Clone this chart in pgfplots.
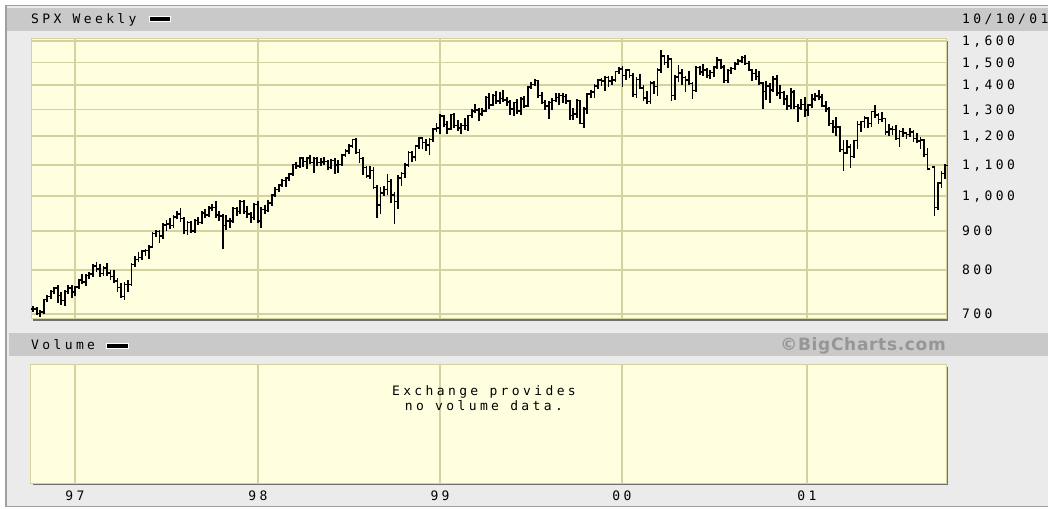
\documentclass[border=0pt]{standalone}
\usepackage{pgfplots}
\usepackage{pgfplotstable}
\pgfplotsset{compat=1.18}
\usepackage{fontspec}
\newfontfamily\pixfont[LetterSpace=26]{DejaVu Sans Mono}
\newfontfamily\bcfont[LetterSpace=4]{DejaVu Sans}
\newcommand{\pix}{\pixfont\fontsize{13}{15}\selectfont}
\definecolor{plotbg}{RGB}{255,255,224}
\definecolor{gridc}{RGB}{212,210,158}
\definecolor{bgc}{RGB}{235,235,235}
\definecolor{hdr}{RGB}{201,201,201}
\definecolor{framec}{RGB}{160,160,160}
\definecolor{shadowc}{RGB}{112,112,112}
\definecolor{bctext}{RGB}{150,150,150}
\pgfdeclareplotmark{ohlcopen}{\pgfpathmoveto{\pgfqpoint{-\pgfplotmarksize}{0pt}}\pgfpathlineto{\pgfqpoint{0pt}{0pt}}\pgfusepathqstroke}
\pgfdeclareplotmark{ohlcclose}{\pgfpathmoveto{\pgfqpoint{0pt}{0pt}}\pgfpathlineto{\pgfqpoint{\pgfplotmarksize}{0pt}}\pgfusepathqstroke}
\pgfdeclareplotmark{hlbar}{\pgfpathmoveto{\pgfpointorigin}\pgfpathlineto{\pgfpoint{0pt}{\barlen pt}}\pgfusepathqstroke}
% week index i: 0 = week ending 4 Oct 1996
\pgfplotstableread{
i o h l c
1 701 714 700 711
2 711 716 706 711
3 711 714 699 701
4 701 706 695 704
5 704 731 702 731
6 731 739 728 738
7 738 751 735 749
8 749 758 745 757
9 757 761 726 740
10 740 746 721 729
11 729 750 720 749
12 749 761 746 757
13 757 762 737 748
14 748 760 742 760
15 760 777 758 776
16 776 789 768 771
17 771 787 765 786
18 786 794 781 790
19 790 812 785 809
20 809 817 796 802
21 802 812 784 791
22 791 807 788 805
23 805 814 787 793
24 793 797 777 784
25 784 798 770 774
26 774 778 750 758
27 758 767 736 738
28 738 768 733 766
29 766 774 750 765
30 765 814 763 813
31 813 831 808 825
32 825 841 822 830
33 830 848 826 847
34 847 851 836 848
35 848 860 830 858
36 858 894 857 893
37 893 899 886 899
38 899 901 870 887
39 887 919 882 917
40 917 927 902 919
41 919 934 907 915
42 915 942 912 939
43 939 954 935 947
44 947 962 928 934
45 934 935 895 901
46 901 926 891 924
47 924 925 897 900
48 900 932 898 929
49 929 935 918 924
50 924 953 921 951
51 951 958 938 945
52 945 967 942 965
53 965 973 958 967
54 967 984 940 944
55 944 953 930 942
56 942 944 855 915
57 915 941 905 928
58 928 933 912 928
59 928 966 925 963
60 963 964 945 955
61 955 986 951 984
62 984 986 950 954
63 954 968 940 947
64 947 950 925 937
65 937 976 932 975
66 975 983 924 928
67 928 965 912 961
68 961 972 950 958
69 958 986 955 980
70 980 1005 973 1003
71 1003 1025 1000 1020
72 1020 1036 1017 1034
73 1034 1051 1030 1049
74 1049 1058 1032 1056
75 1056 1069 1050 1069
76 1069 1101 1066 1101
77 1101 1106 1088 1095
78 1095 1123 1093 1123
79 1123 1124 1097 1111
80 1111 1124 1090 1123
81 1123 1130 1104 1108
82 1108 1123 1076 1121
83 1121 1122 1098 1108
84 1108 1121 1100 1109
85 1109 1124 1103 1111
86 1111 1113 1085 1091
87 1091 1116 1088 1114
88 1114 1119 1074 1099
89 1099 1113 1077 1101
90 1101 1134 1098 1133
91 1133 1149 1130 1146
92 1146 1167 1141 1164
93 1164 1187 1162 1187
94 1187 1190 1138 1141
95 1141 1151 1110 1121
96 1121 1123 1070 1090
97 1090 1094 1058 1063
98 1063 1092 1057 1081
99 1081 1089 1025 1027
100 1027 1033 939 974
101 974 1025 951 1009
102 1009 1030 1002 1020
103 1020 1067 1006 1045
104 1045 1050 981 1003
105 1003 1010 923 984
106 984 1063 965 1056
107 1056 1072 1035 1071
108 1071 1104 1061 1099
109 1099 1142 1094 1141
110 1141 1144 1111 1126
111 1126 1165 1117 1164
112 1164 1193 1156 1192
113 1192 1193 1158 1177
114 1177 1187 1150 1167
115 1167 1189 1137 1188
116 1188 1227 1180 1226
117 1226 1244 1219 1229
118 1229 1278 1212 1275
119 1275 1276 1235 1243
120 1243 1253 1210 1225
121 1225 1280 1224 1280
122 1280 1282 1234 1239
123 1239 1257 1221 1230
124 1230 1244 1210 1239
125 1239 1262 1225 1238
126 1238 1276 1223 1276
127 1276 1298 1269 1295
128 1295 1317 1289 1299
129 1299 1304 1258 1283
130 1283 1301 1279 1294
131 1294 1350 1292 1348
132 1348 1363 1307 1319
133 1319 1358 1317 1357
134 1357 1372 1327 1335
135 1335 1368 1326 1345
136 1345 1375 1333 1338
137 1338 1347 1318 1330
138 1330 1334 1282 1302
139 1302 1328 1278 1328
140 1328 1338 1287 1294
141 1294 1345 1282 1343
142 1343 1350 1311 1315
143 1315 1392 1315 1391
144 1391 1410 1387 1403
145 1403 1421 1398 1419
146 1419 1419 1352 1357
147 1357 1366 1324 1329
148 1329 1334 1300 1314
149 1314 1331 1268 1328
150 1328 1344 1303 1337
151 1337 1365 1335 1348
152 1348 1362 1320 1357
153 1357 1362 1331 1352
154 1352 1357 1327 1335
155 1335 1336 1264 1277
156 1277 1301 1263 1283
157 1283 1337 1270 1336
158 1336 1336 1246 1247
159 1247 1308 1233 1302
160 1302 1364 1288 1363
161 1363 1377 1348 1370
162 1370 1400 1349 1396
163 1396 1424 1387 1422
164 1422 1425 1402 1417
165 1417 1437 1381 1433
166 1433 1434 1397 1417
167 1417 1436 1405 1421
168 1421 1459 1415 1458
169 1458 1473 1450 1469
170 1469 1478 1397 1442
171 1442 1466 1425 1465
172 1465 1465 1435 1441
173 1441 1448 1355 1360
174 1360 1429 1350 1424
175 1424 1444 1386 1387
176 1387 1398 1338 1346
177 1346 1370 1325 1333
178 1333 1413 1325 1409
179 1409 1414 1365 1395
180 1395 1470 1360 1465
181 1465 1553 1455 1528
182 1528 1531 1490 1499
183 1499 1528 1480 1516
184 1516 1517 1339 1357
185 1357 1440 1340 1435
186 1435 1482 1418 1452
187 1452 1465 1405 1433
188 1433 1436 1374 1421
189 1421 1455 1406 1407
190 1407 1408 1346 1378
191 1378 1478 1376 1477
192 1477 1480 1448 1457
193 1457 1489 1445 1465
194 1465 1471 1435 1442
195 1442 1461 1430 1455
196 1455 1480 1438 1479
197 1479 1518 1475 1510
198 1510 1512 1476 1480
199 1480 1486 1413 1420
200 1420 1465 1413 1463
201 1463 1475 1451 1472
202 1472 1499 1469 1492
203 1492 1512 1490 1507
204 1507 1525 1500 1521
205 1521 1530 1492 1495
206 1495 1500 1464 1466
207 1466 1468 1420 1449
208 1449 1464 1426 1437
209 1437 1455 1403 1409
210 1409 1409 1305 1374
211 1374 1415 1342 1397
212 1397 1406 1329 1380
213 1380 1434 1376 1427
214 1427 1439 1359 1366
215 1366 1395 1345 1368
216 1368 1370 1321 1342
217 1342 1356 1301 1315
218 1315 1382 1304 1370
219 1370 1376 1305 1312
220 1312 1319 1254 1306
221 1306 1340 1300 1320
222 1320 1348 1275 1298
223 1298 1320 1279 1319
224 1319 1357 1309 1343
225 1343 1365 1336 1355
226 1355 1377 1340 1350
227 1350 1357 1313 1315
228 1315 1332 1294 1302
229 1302 1307 1242 1246
230 1246 1258 1215 1234
231 1234 1268 1203 1233
232 1233 1233 1148 1151
233 1151 1182 1081 1140
234 1140 1183 1139 1160
235 1160 1169 1091 1128
236 1128 1184 1126 1184
237 1184 1253 1157 1243
238 1243 1254 1219 1253
239 1253 1270 1232 1267
240 1267 1268 1232 1246
241 1246 1292 1236 1292
242 1292 1316 1271 1278
243 1278 1282 1247 1261
244 1261 1287 1256 1265
245 1265 1265 1208 1214
246 1214 1241 1203 1225
247 1225 1235 1206 1224
248 1224 1236 1188 1191
249 1191 1219 1165 1216
250 1216 1225 1198 1211
251 1211 1213 1191 1206
252 1206 1226 1200 1214
253 1214 1220 1183 1190
254 1190 1208 1178 1182
255 1182 1193 1156 1185
256 1185 1186 1130 1134
257 1134 1155 1085 1086
259 1092 1092 945 966
260 966 1041 962 1041
261 1041 1076 1027 1071
262 1071 1098 1057 1097
}\ohlc
\begin{document}
\begin{tikzpicture}
\useasboundingbox (0pt,0pt) rectangle (1048pt,508pt);
\fill[white] (0pt,0pt) rectangle (1048pt,508pt);
\filldraw[fill=bgc, draw=framec, line width=1.5pt] (5.75pt,1.75pt) rectangle (1060pt,502.25pt);
\fill[hdr] (6.5pt,477pt) rectangle (1048pt,500pt);
\fill[hdr] (9pt,152pt) rectangle (1048pt,175pt);
% header texts
\node[anchor=base west, inner sep=0pt] at (31pt,484pt) {\pix SPX Weekly};
\filldraw[fill=black, draw=white, line width=1pt] (149pt,486.5pt) rectangle (170pt,491.5pt);
\node[anchor=base west, inner sep=0pt] at (962pt,484pt) {\pix 10/10/01};
\node[anchor=base west, inner sep=0pt] at (31pt,158pt) {\pix Volume};
\filldraw[fill=black, draw=white, line width=1pt] (106pt,159.5pt) rectangle (128pt,164.5pt);
\node[anchor=base east, inner sep=0pt, text=bctext] at (946pt,157pt) {\bcfont\bfseries\fontsize{17}{19}\selectfont ©BigCharts.com};
% shadows
\fill[shadowc] (33pt,187pt) rectangle (948pt,467pt);
\fill[shadowc] (33pt,23pt) rectangle (948pt,141pt);
\begin{axis}[
  at={(31pt,189pt)}, anchor=south west, scale only axis,
  width=915pt, height=280pt,
  ymode=log,
  xmin=1.35, xmax=262.26, ymin=689.5, ymax=1610,
  axis background/.style={fill=plotbg},
  axis line style={draw=gridc, line width=1pt},
  xtick={13.9,66.08,117.98,169.87,222.62}, xticklabels={},
  ytick={700,800,900,1000,1100,1200,1300,1400,1500,1600},
  yticklabels={700,800,900,{1,000},{1,100},{1,200},{1,300},{1,400},{1,500},{1,600}},
  yticklabel pos=right,
  yticklabel style={anchor=base west, inner sep=0pt, xshift=16pt, yshift=-4.7pt, font=\pix},
  major tick length=0pt, minor tick length=0pt, minor y tick num=0,
  grid=major, major grid style={draw=gridc, line width=1.6pt},
]
% high-low range of each week: a vertical stroke from the low up to the high
% (330.18 pt per unit of ln on this axis: 280pt / ln(1610/689.5))
\addplot[only marks, mark=hlbar,
  visualization depends on={330.18*(ln(\thisrow{h})-ln(\thisrow{l})) \as \barlen},
  mark options={draw=black, line width=1.8pt, line cap=rect}]
  table[x=i, y=l] {\ohlc};
\addplot[only marks, mark=ohlcopen, mark size=2.5pt, mark options={draw=black, line width=1.5pt}]
  table[x=i, y=o] {\ohlc};
\addplot[only marks, mark=ohlcclose, mark size=2.5pt, mark options={draw=black, line width=1.5pt}]
  table[x=i, y=c] {\ohlc};
\end{axis}
\begin{axis}[
  at={(31pt,25pt)}, anchor=south west, scale only axis,
  width=915pt, height=118pt,
  xmin=1.35, xmax=262.26, ymin=0, ymax=1,
  axis background/.style={fill=plotbg},
  axis line style={draw=gridc, line width=1pt},
  xtick={13.9,66.08,117.98,169.87,222.62}, xticklabels={97,98,99,00,01},
  xticklabel style={anchor=base, inner sep=0pt, yshift=-17.7pt, font=\pix},
  ytick=\empty,
  major tick length=0pt,
  xmajorgrids, major grid style={draw=gridc, line width=1.6pt},
]
\node[align=center, inner sep=0pt, font=\pix] at (axis cs:130.5,0.72) {Exchange provides\\no volume data.};
\end{axis}
\end{tikzpicture}
\end{document}
